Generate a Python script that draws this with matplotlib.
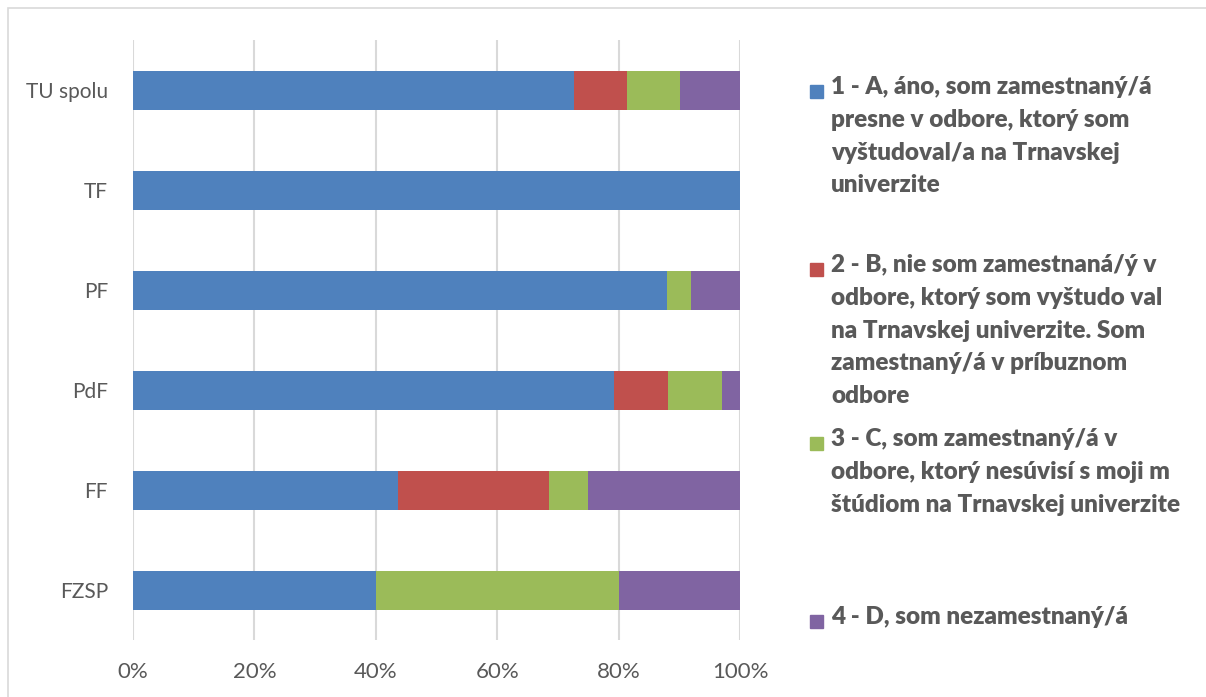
import matplotlib.pyplot as plt
from matplotlib.patches import Rectangle

# faculties, top to bottom as in the chart
faculties = ['TU spolu', 'TF', 'PF', 'PdF', 'FF', 'FZSP']

# percentage shares per answer
ans_a = [72.7, 100.0, 87.9, 79.3, 43.6, 40.0]
ans_b = [8.7, 0.0, 0.0, 8.8, 24.9, 0.0]
ans_c = [8.7, 0.0, 4.1, 8.9, 6.4, 40.0]
ans_d = [9.9, 0.0, 8.0, 3.0, 25.1, 20.0]

series_labels = [
    '1 - A, áno, som zamestnaný/á\npresne v odbore, ktorý som\nvyštudoval/a na Trnavskej\nuniverzite',
    '2 - B, nie som zamestnaná/ý v\nodbore, ktorý som vyštudo val\nna Trnavskej univerzite. Som\nzamestnaný/á v príbuznom\nodbore',
    '3 - C, som zamestnaný/á v\nodbore, ktorý nesúvisí s moji m\nštúdiom na Trnavskej univerzite',
    '4 - D, som nezamestnaný/á',
]
colors = ['#4F81BD', '#C0504D', '#9BBB59', '#8064A2']
xticks = [0, 20, 40, 60, 80, 100]

txt = '#595959'
plt.rcParams['font.family'] = ['Lato', 'DejaVu Sans']

fig = plt.figure(figsize=(12.06, 6.97), dpi=100)
ax = fig.add_axes([133 / 1206, 1 - 640 / 697, 607 / 1206, 600 / 697])

ypos = list(range(len(faculties)))
left = [0.0] * len(faculties)
for vals, c in zip([ans_a, ans_b, ans_c, ans_d], colors):
    ax.barh(ypos, vals, left=left, height=0.39, color=c, zorder=3)
    left = [l + v for l, v in zip(left, vals)]

ax.set_ylim(len(faculties) - 0.5, -0.5)
ax.set_xlim(0, 100)
ax.set_yticks(ypos)
ax.set_yticklabels(faculties)
ax.set_xticks(xticks)
ax.set_xticklabels([f'{t}%' for t in xticks])
ax.tick_params(axis='y', length=0, labelsize=15, colors=txt, pad=18)
ax.tick_params(axis='x', length=0, labelsize=16, colors=txt, pad=16)
ax.grid(axis='x', color='#D9D9D9', linewidth=1.5, zorder=0)
for s in ax.spines.values():
    s.set_visible(False)

# legend drawn by hand, entries spread down the right side
entry_y = [91, 269, 443, 621]
for lab, c, y in zip(series_labels, colors, entry_y):
    fig.patches.append(Rectangle((810 / 1206, 1 - (y + 7) / 697), 13 / 1206, 13 / 697,
                                 transform=fig.transFigure, color=c))
    fig.text(831 / 1206, 1 - (y - 15) / 697, lab, fontsize=17.5, fontweight='heavy',
             color=txt, va='top', ha='left', linespacing=1.6)

# chart frame
fig.patches.append(Rectangle((8 / 1206, -0.01), 1.02, 1 - 8 / 697 + 0.01,
                             transform=fig.transFigure, fill=False,
                             edgecolor='#D9D9D9', linewidth=1.2))

fig.savefig('out.png', dpi=100)
